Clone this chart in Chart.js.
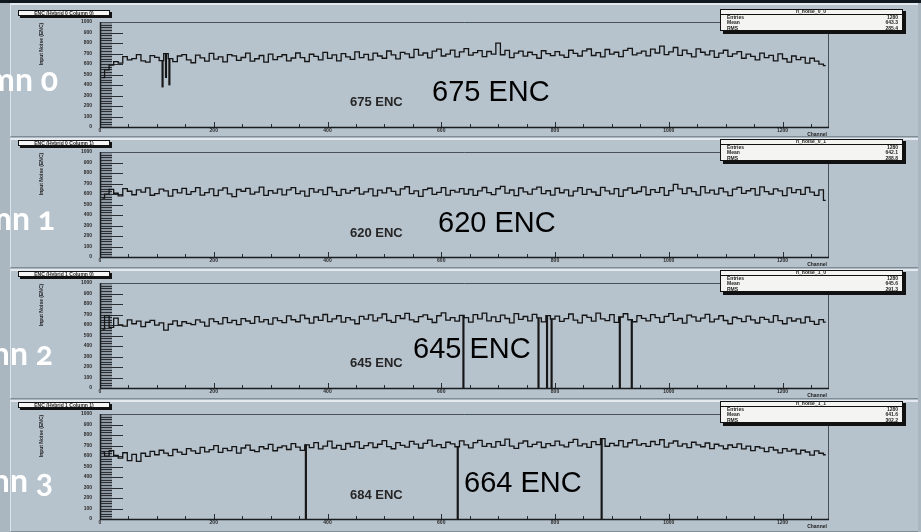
<!DOCTYPE html>
<html>
<head>
<meta charset="utf-8">
<script src="https://cdn.jsdelivr.net/npm/chart.js@4.4.1/dist/chart.umd.min.js"></script>
<style>
  body { margin: 0; width: 921px; height: 532px; overflow: hidden; position: relative; background: #aab6c0; font-family: "Liberation Sans", Arial, sans-serif; }
  .strip { position: absolute; left: 0; top: 0; width: 921px; height: 3px; background: #121820; }
  .frame { position: absolute; left: 10px; width: 908px; background: #b6c2cc; border-top: 2px solid #e3e9ee; border-left: 1px solid #dde4e9; border-bottom: 1px solid #7f8b95; box-sizing: border-box; }
  canvas { position: absolute; left: 0; }
  .big { position: absolute; font-size: 29px; line-height: 1; color: #000; white-space: nowrap; }
  .small { position: absolute; font-size: 13px; line-height: 1; font-weight: bold; color: #262626; white-space: nowrap; }
  .col { position: absolute; left: -240px; width: 240px; text-align: right; font-family: Lato, "Noto Sans", sans-serif; font-weight: bold; font-size: 32px; line-height: 1; color: #fff; white-space: nowrap; font-feature-settings: "onum" 1; font-variant-numeric: oldstyle-nums; }
</style>
</head>
<body>
<div class="strip"></div>
<div class="frame" style="top:3px;height:134px"></div>
<div class="frame" style="top:138px;height:130px"></div>
<div class="frame" style="top:269px;height:130px"></div>
<div class="frame" style="top:400px;height:132px"></div>

<canvas id="c0" width="921" height="140" style="top:0px"></canvas>
<canvas id="c1" width="921" height="140" style="top:130px"></canvas>
<canvas id="c2" width="921" height="140" style="top:261px"></canvas>
<canvas id="c3" width="921" height="140" style="top:392px"></canvas>

<div class="small" style="left:350px;top:95px">675 ENC</div>
<div class="big" style="left:432px;top:77px">675 ENC</div>
<div class="small" style="left:350px;top:226px">620 ENC</div>
<div class="big" style="left:438px;top:208px">620 ENC</div>
<div class="small" style="left:350px;top:356px">645 ENC</div>
<div class="big" style="left:413px;top:334px">645 ENC</div>
<div class="small" style="left:350px;top:488px">684 ENC</div>
<div class="big" style="left:464px;top:468px">664 ENC</div>

<div class="col" style="margin-left:58px;top:63px">Column 0</div>
<div class="col" style="margin-left:55px;top:202px">Column 1</div>
<div class="col" style="margin-left:53px;top:337px">Column 2</div>
<div class="col" style="margin-left:53px;top:464px">Column 3</div>

<script>
// one value every 8 channels (bin centres)
const chStep = 8;

const noise0 = [
  470, 545, 590, 622, 608, 671, 640, 652, 690, 629, 617, 680, 664, 633, 698, 651, 623, 676, 689, 640,
  612, 684, 659, 628, 701, 646, 668, 621, 690, 677, 635, 662, 704, 627, 650, 681, 618, 695, 642, 671,
  688, 630, 657, 705, 661, 624, 693, 672, 640, 710, 653, 686, 629, 698, 668, 645, 715, 660, 691, 639,
  703, 676, 655, 724, 686, 648, 711, 697, 662, 739, 684, 705, 659, 722, 741, 676, 694, 733, 668, 715,
  746, 684, 708, 727, 670, 719, 695, 798, 688, 730, 661, 704, 722, 675, 712, 690, 655, 726, 698, 679,
  717, 684, 664, 731, 702, 676, 725, 743, 681, 709, 667, 738, 695, 712, 671, 729, 748, 686, 703, 722,
  677, 741, 705, 770, 689, 716, 757, 683, 732, 699, 668, 744, 712, 687, 725, 663, 703, 731, 672, 697,
  718, 655, 694, 672, 640, 703, 661, 682, 629, 697, 650, 618, 676, 641, 663, 608, 655, 627, 598, 585
];
const noise1 = [
  560, 598, 644, 607, 582, 651, 626, 593, 640, 617, 659, 588, 604, 647, 630, 579, 642, 611, 653, 596,
  622, 660, 590, 613, 648, 584, 637, 659, 601, 575, 643, 626, 654, 598, 618, 665, 587, 632, 609, 646,
  592, 639, 661, 603, 628, 580, 652, 617, 640, 594, 662, 622, 586, 645, 608, 633, 657, 599, 621, 648,
  583, 636, 610, 657, 625, 591, 648, 669, 604, 629, 578, 641, 655, 597, 616, 660, 589, 634, 618, 651,
  600, 643, 587, 629, 662, 613, 594, 650, 673, 608, 638, 585, 657, 621, 599, 646, 666, 603, 631, 590,
  655, 612, 640, 582, 627, 661, 596, 645, 619, 588, 664, 630, 601, 651, 578, 638, 659, 607, 624, 668,
  593, 641, 615, 660, 586, 632, 692, 649, 604, 657, 623, 589, 670, 611, 636, 598, 655, 620, 585, 647,
  663, 606, 631, 652, 590, 667, 622, 600, 648, 629, 584, 658, 613, 641, 596, 662, 618, 587, 639, 540
];
const noise2 = [
  560, 690, 578, 665, 602, 589, 648, 612, 637, 585, 626, 644, 598, 621, 552, 607, 640, 593, 631, 616,
  604, 648, 627, 590, 659, 633, 611, 670, 622, 645, 603, 661, 638, 616, 679, 630, 652, 609, 668, 641,
  623, 687, 650, 631, 694, 662, 618, 676, 645, 700, 633, 659, 688, 627, 671, 649, 612, 683, 656, 697,
  639, 668, 705, 643, 625, 690, 662, 711, 648, 631, 679, 697, 655, 624, 688, 716, 647, 670, 636, 692,
  671, 628, 699, 658, 713, 640, 677, 632, 694, 662, 621, 708, 653, 681, 639, 702, 667, 629, 690, 657,
  684, 634, 661, 705, 646, 620, 693, 672, 637, 714, 659, 642, 698, 625, 676, 707, 650, 631, 689, 663,
  640, 698, 671, 626, 683, 709, 645, 662, 618, 695, 677, 637, 666, 701, 629, 656, 688, 643, 612, 674,
  661, 632, 685, 649, 619, 673, 654, 627, 690, 641, 612, 667, 638, 659, 620, 676, 634, 606, 652, 628
];
const noise3 = [
  640, 598, 652, 606, 580, 631, 556, 615, 548, 626, 597, 644, 612, 655, 628, 603, 662, 637, 616, 671,
  649, 625, 683, 640, 661, 699, 634, 672, 651, 690, 628, 676, 704, 655, 642, 688, 669, 711, 650, 681,
  697, 662, 718, 684, 653, 706, 679, 727, 668, 695, 741, 676, 702, 663, 719, 688, 734, 672, 699, 725,
  681, 712, 746, 690, 669, 728, 701, 684, 739, 713, 676, 720, 752, 694, 708, 679, 731, 715, 688, 744,
  706, 678, 727, 749, 691, 717, 684, 736, 702, 760, 695, 672, 723, 743, 689, 711, 733, 681, 718, 698,
  741, 703, 686, 729, 758, 697, 715, 682, 737, 709, 765, 693, 721, 700, 747, 687, 726, 754, 704, 718,
  691, 738, 709, 755, 684, 722, 743, 695, 716, 680, 731, 706, 688, 724, 671, 712, 697, 669, 705, 683,
  716, 667, 694, 652, 688, 675, 641, 683, 657, 629, 671, 646, 662, 621, 655, 638, 608, 649, 626, 612
];

// dead / low channels: channel number and the value it drops to
const deadCh0 = [110, 116, 122];
const deadVal0 = [380, 470, 400];
const deadCh1 = [];
const deadVal1 = [];
const deadCh2 = [639, 771, 786, 794, 914, 935];
const deadVal2 = [0, 0, 0, 0, 0, 0];
const deadCh3 = [362, 629, 882];
const deadVal3 = [0, 0, 0];

const panelTitles = ['ENC (Hybrid 0 Column 0)', 'ENC (Hybrid 0 Column 1)', 'ENC (Hybrid 1 Column 0)', 'ENC (Hybrid 1 Column 1)'];
const statNames = ['h_noise_0_0', 'h_noise_0_1', 'h_noise_1_0', 'h_noise_1_1'];
const statEntries = [1280, 1280, 1280, 1280];
const statMean = ['643.3', '642.1', '645.6', '641.6'];
const statRms = ['285.4', '288.8', '291.3', '302.2'];
const yTitle = 'Input Noise (ENC)';
const xTitle = 'Channel';

Chart.defaults.font.family = '"Liberation Sans", Arial, sans-serif';
Chart.defaults.animation = false;

// ROOT-style decorations: hatched y axis, inner ticks, frame, title and stats boxes
const rootFrame = {
  id: 'rootFrame',
  beforeDatasetsDraw(chart) {
    const { ctx, chartArea: a, scales: { x, y } } = chart;
    ctx.save();
    ctx.fillStyle = 'rgba(90,100,110,0.45)';
    ctx.fillRect(a.left, a.top, 12, a.bottom - a.top);
    ctx.strokeStyle = '#2a2e33';
    ctx.lineWidth = 1;
    for (let v = 0; v <= 1000; v += 25) {
      const py = Math.round(y.getPixelForValue(v)) + 0.5;
      ctx.beginPath();
      ctx.moveTo(a.left, py);
      ctx.lineTo(a.left + (v % 100 === 0 ? 23 : 12), py);
      ctx.stroke();
    }
    for (let c = 0; c <= 1280; c += 50) {
      const px = Math.round(x.getPixelForValue(c)) + 0.5;
      ctx.beginPath();
      ctx.moveTo(px, a.bottom);
      ctx.lineTo(px, a.bottom - (c % 200 === 0 ? 5 : 3));
      ctx.stroke();
    }
    ctx.restore();
  },
  afterDraw(chart, args, opts) {
    const { ctx, chartArea: a } = chart;
    const i = opts.index;
    ctx.save();
    // frame
    ctx.strokeStyle = '#4a5058';
    ctx.lineWidth = 1;
    ctx.beginPath();
    ctx.moveTo(a.left, a.top + 0.5);
    ctx.lineTo(a.right + 0.5, a.top + 0.5);
    ctx.lineTo(a.right + 0.5, a.bottom);
    ctx.stroke();
    ctx.strokeStyle = '#1a1d20';
    ctx.lineWidth = 1.5;
    ctx.beginPath();
    ctx.moveTo(a.left + 0.5, a.top);
    ctx.lineTo(a.left + 0.5, a.bottom + 0.5);
    ctx.lineTo(a.right + 1, a.bottom + 0.5);
    ctx.stroke();

    // title box
    ctx.fillStyle = '#111';
    ctx.fillRect(20, 12, 92, 6);
    ctx.fillStyle = '#f6f6f6';
    ctx.fillRect(18, 10, 92, 6);
    ctx.strokeStyle = '#111';
    ctx.lineWidth = 1;
    ctx.strokeRect(18.5, 10.5, 91, 5);
    ctx.fillStyle = '#222';
    ctx.font = 'bold 5px "Liberation Sans", Arial';
    ctx.textAlign = 'center';
    ctx.textBaseline = 'middle';
    ctx.fillText(panelTitles[i], 64, 13.5);

    // stats box
    ctx.fillStyle = '#111';
    ctx.fillRect(723, 11, 183, 23);
    ctx.fillStyle = '#f4f4f2';
    ctx.fillRect(720, 9, 183, 22);
    ctx.strokeStyle = '#111';
    ctx.strokeRect(720.5, 9.5, 182, 21);
    ctx.beginPath();
    ctx.moveTo(720, 14.5); ctx.lineTo(903, 14.5);
    ctx.stroke();
    ctx.fillStyle = '#222';
    ctx.fillText(statNames[i], 811, 12);
    ctx.textAlign = 'left';
    ctx.fillText('Entries', 727, 17.5);
    ctx.fillText('Mean', 727, 23);
    ctx.fillText('RMS', 727, 28.5);
    ctx.textAlign = 'right';
    ctx.fillText(String(statEntries[i]), 898, 17.5);
    ctx.fillText(statMean[i], 898, 23);
    ctx.fillText(statRms[i], 898, 28.5);

    // axis titles
    ctx.textAlign = 'center';
    ctx.fillText(xTitle, 817, 135);
    ctx.translate(42, 44);
    ctx.rotate(-Math.PI / 2);
    ctx.fillText(yTitle, 0, 0);
    ctx.restore();
  }
};

function makePanel(id, index, noise, deadCh, deadVal) {
  const line = noise.map((v, k) => ({ x: k * chStep + chStep / 2, y: v }));
  // a dead channel is a drop from the trace level down to its own value
  const drops = deadCh.map((c, j) => ({ x: c, y: [deadVal[j], noise[Math.floor(c / chStep)]] }));
  new Chart(document.getElementById(id), {
    type: 'line',
    data: {
      datasets: [{
        data: line,
        borderColor: '#141414',
        borderWidth: 1.3,
        pointRadius: 0,
        stepped: 'middle',
        fill: false
      }, {
        type: 'bar',
        data: drops,
        backgroundColor: '#161616',
        barThickness: 1.5
      }]
    },
    options: {
      responsive: false,
      maintainAspectRatio: false,
      layout: { padding: { top: 22, right: 93, bottom: 0, left: 0 } },
      plugins: { legend: { display: false }, tooltip: { enabled: false }, rootFrame: { index } },
      scales: {
        x: {
          type: 'linear', min: 0, max: 1280, offset: false,
          afterFit(s) { s.height = 13; },
          grid: { display: false, offset: false, drawTicks: false, tickLength: 0 },
          border: { display: false },
          ticks: {
            stepSize: 200, autoSkip: false, maxRotation: 0, padding: 1,
            font: { size: 5, weight: 'bold' }, color: '#2a2a2a',
            callback: v => (v <= 1200 ? String(v) : '')
          }
        },
        y: {
          min: 0, max: 1000,
          afterFit(s) { s.width = 100; },
          grid: { display: false, drawTicks: false, tickLength: 0 },
          border: { display: false },
          ticks: {
            stepSize: 100, padding: 8, font: { size: 5, weight: 'bold' }, color: '#2a2a2a',
            callback: v => String(v)
          }
        }
      }
    },
    plugins: [rootFrame]
  });
}

makePanel('c0', 0, noise0, deadCh0, deadVal0);
makePanel('c1', 1, noise1, deadCh1, deadVal1);
makePanel('c2', 2, noise2, deadCh2, deadVal2);
makePanel('c3', 3, noise3, deadCh3, deadVal3);
</script>
</body>
</html>
